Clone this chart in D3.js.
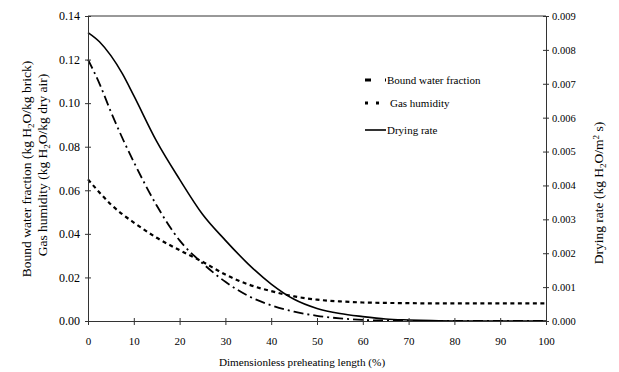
<!DOCTYPE html>
<html>
<head>
<meta charset="utf-8">
<script src="https://d3js.org/d3.v7.min.js"></script>
<style>
body { margin: 0; background: #fff; }
text { font-family: "Liberation Serif", "Times New Roman", serif; fill: #000; }
</style>
</head>
<body>
<svg id="chart" width="619" height="372"></svg>
<script>
// x positions (%) shared by all series
var xs = [0, 2.5, 5, 7.5, 10, 15, 20, 25, 30, 35, 40, 45, 50, 55, 60, 65, 70, 75, 80, 90, 100];

// left axis (kg H2O/kg brick)
var boundWater = [0.120, 0.109, 0.096, 0.084, 0.073, 0.053, 0.037, 0.0265, 0.018, 0.0115, 0.0072, 0.0043, 0.0024, 0.0012, 0.0005, 0.0002, 0.0001, 0, 0, 0, 0];
// left axis (kg H2O/kg dry air)
var gasHumidity = [0.065, 0.059, 0.0535, 0.049, 0.0452, 0.0382, 0.0325, 0.0272, 0.0213, 0.0168, 0.0137, 0.0113, 0.0098, 0.0090, 0.0085, 0.0083, 0.0082, 0.0081, 0.0081, 0.0081, 0.0081];
// right axis (kg H2O/m2 s)
var dryingRate = [0.00851, 0.00824, 0.00783, 0.00730, 0.00665, 0.00530, 0.00418, 0.00315, 0.00238, 0.00168, 0.00109, 0.00064, 0.00037, 0.00022, 0.00013, 0.00006, 0.00003, 0.00001, 0, 0, 0];

var xTicks = [0, 10, 20, 30, 40, 50, 60, 70, 80, 90, 100];
var leftTicks = [0, 0.02, 0.04, 0.06, 0.08, 0.10, 0.12, 0.14];
var rightTicks = [0, 0.001, 0.002, 0.003, 0.004, 0.005, 0.006, 0.007, 0.008, 0.009];

var svg = d3.select("#chart");
var plotLeft = 88, plotRight = 546, plotTop = 16, plotBottom = 321;

var x = d3.scaleLinear().domain([0, 100]).range([plotLeft, plotRight]);
var yL = d3.scaleLinear().domain([0, 0.14]).range([plotBottom, plotTop]);
var yR = d3.scaleLinear().domain([0, 0.009]).range([plotBottom, plotTop]);

var axisColor = "#333";

// frame top line
svg.append("line")
    .attr("x1", plotLeft).attr("x2", plotRight)
    .attr("y1", plotTop).attr("y2", plotTop)
    .attr("stroke", axisColor).attr("stroke-width", 1);

// series
function drawLine(values, scale, dash, width) {
    var line = d3.line()
        .x((d, i) => x(xs[i]))
        .y(d => scale(d))
        .curve(d3.curveMonotoneX);
    svg.append("path")
        .datum(values)
        .attr("d", line)
        .attr("fill", "none")
        .attr("stroke", "#000")
        .attr("stroke-width", width)
        .attr("stroke-dasharray", dash);
}

drawLine(gasHumidity, yL, "4,3.5", 2.2);
drawLine(boundWater, yL, "10,4,2,4", 1.8);
drawLine(dryingRate, yR, null, 1.6);

// axes
var xAxis = svg.append("g")
    .attr("transform", "translate(0," + plotBottom + ")")
    .call(d3.axisBottom(x).tickValues(xTicks).tickSize(4).tickSizeOuter(0).tickPadding(12));
xAxis.selectAll(".tick line").attr("y1", -3);
xAxis.selectAll("text").style("font-size", "11px");

var leftAxis = svg.append("g")
    .attr("transform", "translate(" + plotLeft + ",0)")
    .call(d3.axisLeft(yL).tickValues(leftTicks).tickFormat(d3.format(".2f")).tickSize(3).tickSizeOuter(0).tickPadding(5));
leftAxis.selectAll(".tick line").attr("x1", 3);
leftAxis.selectAll("text").style("font-size", "12px");

var rightAxis = svg.append("g")
    .attr("transform", "translate(" + plotRight + ",0)")
    .call(d3.axisRight(yR).tickValues(rightTicks).tickFormat(d3.format(".3f")).tickSize(3).tickSizeOuter(0).tickPadding(3));
rightAxis.selectAll(".tick line").attr("x1", -3);
rightAxis.selectAll("text").style("font-size", "10.5px");

svg.selectAll(".domain").attr("stroke", axisColor);
svg.selectAll(".tick line").attr("stroke", axisColor);
svg.selectAll(".tick text").style("font-family", "Liberation Serif");

// axis titles
svg.append("text")
    .attr("x", 302).attr("y", 366)
    .attr("text-anchor", "middle")
    .style("font-size", "11.2px")
    .text("Dimensionless preheating length (%)");

function unitTitle(g, parts) {
    parts.forEach(p => {
        var t = g.append("tspan").text(p.t);
        if (p.sub) t.attr("dy", 3).style("font-size", "9px");
        if (p.sup) t.attr("dy", -4).style("font-size", "9px");
        if (p.back) t.attr("dy", p.back);
    });
}

var lt1 = svg.append("text")
    .attr("transform", "translate(31,169) rotate(-90)")
    .attr("text-anchor", "middle")
    .style("font-size", "13.5px");
unitTitle(lt1, [{t: "Bound water fraction (kg H"}, {t: "2", sub: true}, {t: "O/kg brick)", back: -3}]);

var lt2 = svg.append("text")
    .attr("transform", "translate(47,165) rotate(-90)")
    .attr("text-anchor", "middle")
    .style("font-size", "13.5px");
unitTitle(lt2, [{t: "Gas humidity (kg H"}, {t: "2", sub: true}, {t: "O/kg dry air)", back: -3}]);

var rt = svg.append("text")
    .attr("transform", "translate(603,193) rotate(-90)")
    .attr("text-anchor", "middle")
    .style("font-size", "13.5px");
unitTitle(rt, [{t: "Drying rate (kg H"}, {t: "2", sub: true}, {t: "O/m", back: -3}, {t: "2", sup: true}, {t: " s)", back: 4}]);

// legend
var legendItems = [
    {name: "Bound water fraction", dash: "6,14,2,6", width: 3, y: 80},
    {name: "Gas humidity", dash: "3,8", width: 3, y: 103},
    {name: "Drying rate", dash: null, width: 1.6, y: 130}
];
var legend = svg.append("g");
legend.selectAll("line")
    .data(legendItems)
    .join("line")
    .attr("x1", 365).attr("x2", 386)
    .attr("y1", d => d.y).attr("y2", d => d.y)
    .attr("stroke", "#000")
    .attr("stroke-width", d => d.width)
    .attr("stroke-dasharray", d => d.dash);
legend.selectAll("text")
    .data(legendItems)
    .join("text")
    .attr("x", d => d.name == "Gas humidity" ? 390 : 387)
    .attr("y", d => d.y + 4)
    .style("font-size", "11px")
    .text(d => d.name);
</script>
</body>
</html>
